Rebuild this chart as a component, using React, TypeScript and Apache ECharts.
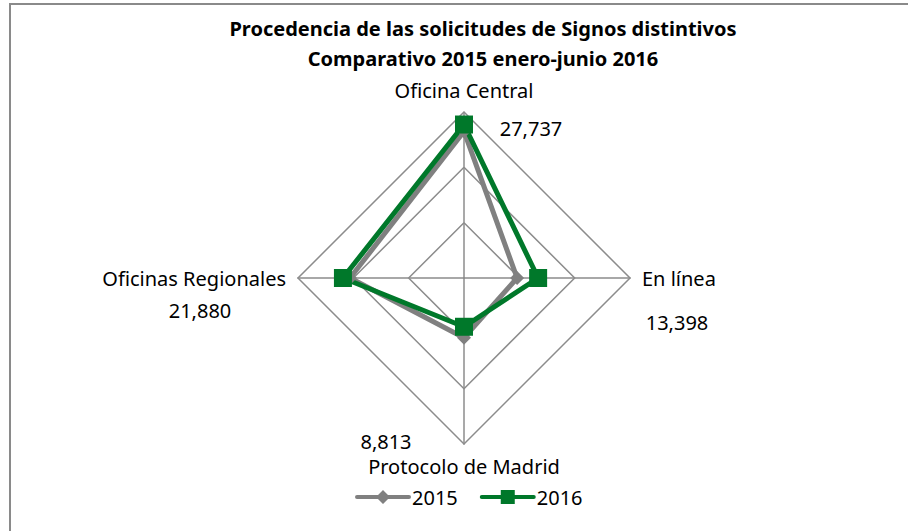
import React, { useEffect, useRef } from "react";
import * as echarts from "echarts";

const titleLines = [
  "Procedencia de las solicitudes de Signos distintivos",
  "Comparativo 2015 enero-junio 2016",
];
// Counter-clockwise order from the top, as ECharts places indicators
const categories = ["Oficina Central", "Oficinas Regionales", "Protocolo de Madrid", "En línea"];
const seriesNames = ["2015", "2016"];
const values2015 = [26500, 20600, 10800, 9600];
const values2016 = [27737, 21880, 8813, 13398];
const axisMax = 30000;

const FONT = "Noto Sans";
const GRAY = "#808080";
const GREEN = "#00782A";

// label anchor positions for 2016 values (same order as categories)
const labelPos = [
  [531, 128],
  [200, 310],
  [386, 441],
  [677, 322],
];

const fmt = (v: number) => v.toLocaleString("en-US");

export default function App() {
  const ref = useRef<HTMLDivElement>(null);
  useEffect(() => {
    if (!ref.current) return;
    const chart = echarts.init(ref.current, undefined, { renderer: "svg" });
    const iconDiamond =
      "path://M2,6 L54,6 A2,2 0 0 1 54,10 L2,10 A2,2 0 0 1 2,6 Z M28,1 L35,8 L28,15 L21,8 Z";
    const iconSquare =
      "path://M2,6 L54,6 A2,2 0 0 1 54,10 L2,10 A2,2 0 0 1 2,6 Z M21,1 L35,1 L35,15 L21,15 Z";
    chart.setOption({
      animation: false,
      backgroundColor: "#fff",
      title: {
        text: titleLines.join("\n"),
        left: 478,
        textAlign: "center",
        top: 8,
        textStyle: {
          fontFamily: FONT,
          fontWeight: "bold",
          fontSize: 20,
          lineHeight: 30,
          color: "#000",
        },
      },
      legend: {
        data: [
          { name: seriesNames[0], icon: iconDiamond },
          { name: seriesNames[1], icon: iconSquare },
        ],
        left: 350,
        top: 482,
        itemWidth: 56,
        itemHeight: 16,
        itemGap: 22,
        textStyle: { fontFamily: FONT, fontSize: 20, color: "#000", padding: [0, 0, 0, -4] },
      },
      radar: {
        center: [464, 278],
        radius: 166,
        startAngle: 90,
        shape: "polygon",
        splitNumber: 3,
        nameGap: 12,
        indicator: categories.map((c) => ({ name: c, max: axisMax, min: 0 })),
        axisName: { color: "#000", fontFamily: FONT, fontSize: 20, lineHeight: 20 },
        axisLine: { lineStyle: { color: "#8c8c8c", width: 1.5 } },
        splitLine: { lineStyle: { color: "#8c8c8c", width: 1.5 } },
        splitArea: { show: false },
        axisTick: { show: false },
        axisLabel: { show: false },
      },
      series: [
        {
          type: "radar",
          name: "radar",
          data: [
            {
              name: seriesNames[0],
              value: values2015,
              symbol: "diamond",
              symbolSize: 14,
              lineStyle: { color: GRAY, width: 5 },
              itemStyle: { color: GRAY },
            },
            {
              name: seriesNames[1],
              value: values2016,
              symbol: "rect",
              symbolSize: 18,
              lineStyle: { color: GREEN, width: 5 },
              itemStyle: { color: GREEN },
            },
          ],
        },
      ],
      color: [GRAY, GREEN],
      graphic: [
        {
          type: "rect",
          shape: { x: 10, y: 4, width: 1000, height: 1000 },
          style: { fill: "none", stroke: "#8a8a8a", lineWidth: 2 },
          z: -10,
          silent: true,
        },
        ...values2016.map((v, i) => ({
          type: "text",
          x: labelPos[i][0],
          y: labelPos[i][1],
          style: {
            text: fmt(v),
            fontFamily: FONT,
            fontSize: 20,
            lineHeight: 20,
            fill: "#000",
            align: "center",
            verticalAlign: "middle",
          },
        })),
      ],
    });
    return () => chart.dispose();
  }, []);
  return (
    <div
      ref={ref}
      style={{ position: "absolute", left: 0, top: 0, width: 908, height: 531 }}
    />
  );
}
